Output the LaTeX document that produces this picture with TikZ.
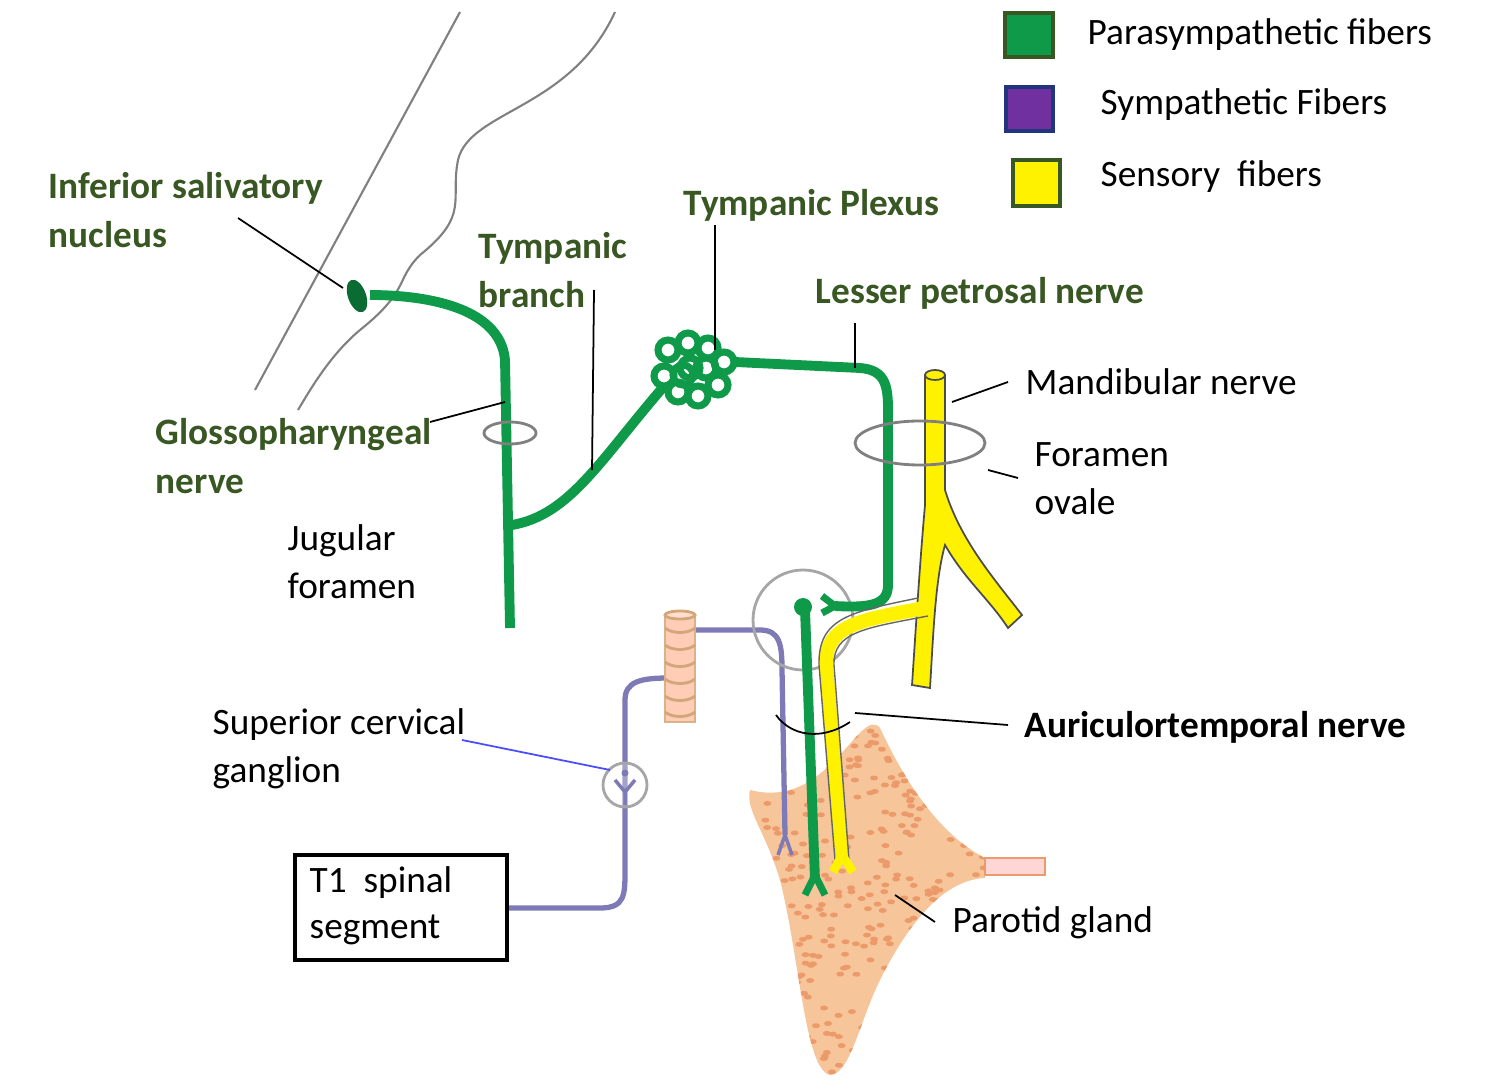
\documentclass[tikz,border=0pt]{standalone}
\usepackage{fontspec}
\setmainfont{Carlito}
\definecolor{dg}{HTML}{385723}
\definecolor{nerveg}{HTML}{0E9A48}
\definecolor{pur}{HTML}{7E7AB5}
\definecolor{gland}{HTML}{F6C59A}
\definecolor{glandd}{HTML}{EC9A6A}
\definecolor{legp}{HTML}{7030A0}
\tikzset{lbl/.style={font=\fontsize{10.6}{13.2}\selectfont,anchor=west,align=left,inner sep=0},
 glbl/.style={lbl,text=dg,font=\fontsize{10.6}{13.2}\selectfont\bfseries},
 lead/.style={black,line width=0.5pt},
 gf/.style={nerveg,line width=2.8pt},
 pf/.style={pur,line width=1.5pt},
 yf/.style={draw=black!70,line width=0.5pt,fill=yellow}}
\begin{document}
\begin{tikzpicture}[x=0.01cm,y=-0.01cm]
\useasboundingbox (0,0) rectangle (1501,1086);
% legend
\fill[nerveg,draw=dg,line width=1pt] (1005,13) rectangle (1053,57);
\fill[legp,draw=dg!60!blue,line width=1pt] (1006,87) rectangle (1053,131);
\fill[yellow,draw=dg,line width=1pt] (1013,160) rectangle (1060,206);
\node[lbl] (l1) at (1087,35) {Parasympathetic fibers};
\node[lbl] (l2) at (1100,105) {Sympathetic Fibers};
\node[lbl] (l3) at (1100,177) {Sensory\ \ fibers};
% brain outline
\draw[gray,line width=0.6pt] (460,12) -- (255,390);
\draw[gray,line width=0.6pt] (615,12) .. controls (570,110) and (470,110) .. (458,160) .. controls (450,200) and (470,215) .. (420,255) .. controls (395,280) and (410,290) .. (360,330) .. controls (330,355) and (310,390) .. (298,410);
% parotid gland
\def\glandpath{(750,790) .. controls (790,800) and (815,780) .. (835,760) .. controls (855,740) and (870,715) .. (880,728) .. controls (895,760) and (930,830) .. (985,858) -- (985,878) .. controls (940,880) and (905,930) .. (880,980) .. controls (860,1020) and (850,1075) .. (830,1075) .. controls (805,1070) and (800,960) .. (780,880) .. controls (765,830) and (745,810) .. (750,790) -- cycle}
\fill[gland] \glandpath;
\begin{scope}
\clip \glandpath;
\foreach \i in {1,...,420}{
 \pgfmathsetmacro{\xx}{745+rnd*245}\pgfmathsetmacro{\yy}{720+rnd*360}
 \fill[glandd] (\xx,\yy) ellipse (4 and 2.5);}
\end{scope}
\fill[pink!80!red!40,draw=glandd] (985,858) rectangle (1045,875);
% sympathetic
\draw[pf] (505,908) -- (600,908) .. controls (625,908) and (625,895) .. (625,870) -- (625,700) .. controls (625,682) and (640,678) .. (668,678);
\draw[pf] (690,630) -- (760,630) .. controls (780,630) and (782,645) .. (782,670) -- (785,835);
\draw[pf,line width=1pt] (785,835) -- (778,855) (785,835) -- (792,855);
\draw[gray!70,line width=0.8pt,fill=white,fill opacity=0.3] (625,785) circle (22);
\fill[pur] (625,773) circle (3.5);
\draw[pur,line width=1pt] (615,780) -- (625,792) -- (635,780) (625,792) -- (625,805);
% pink cylinder
\fill[pink!70!orange!60,draw=brown!60,line width=0.8pt] (665,615) rectangle (695,722);
\foreach \y in {628,645,662,679,696,712} \draw[brown!70,line width=0.8pt] (665,\y) .. controls (672,\y+6) and (688,\y+6) .. (695,\y);
\draw[brown!70,fill=pink!70!orange!40,line width=0.8pt] (680,615) ellipse (15 and 4);
% T1 box
\node[draw,line width=1pt,minimum width=212*0.01cm,minimum height=105*0.01cm,anchor=north west] (t1) at (293,853) {};
\node[lbl] (t1t) at (309,906) {T1\ \ spinal\\segment};
% otic ganglion circle
\draw[gray!70,line width=0.8pt] (803,620) circle (50);
% green fibers
\draw[gf] (370,295) .. controls (420,295) and (500,305) .. (505,360) -- (510,628);
\draw[gf] (512,525) .. controls (570,515) and (600,460) .. (665,385);
\fill[nerveg!70!black] (357,296) ellipse [x radius=9,y radius=17,rotate=20];
\foreach \a/\b in {668/350,688/343,708/348,724/362,718/385,698/396,678/392,664/376,690/368,706/368,683/375}
 \draw[nerveg,line width=2pt] (\a,\b) circle (10);
\draw[gf] (735,362) -- (860,368) .. controls (885,370) and (888,385) .. (888,410) -- (888,585) .. controls (888,605) and (870,608) .. (835,606);
\draw[nerveg,line width=2pt] (822,596) -- (835,606) -- (822,613);
\fill[nerveg] (803,607) circle (9);
\draw[gf] (805,610) -- (815,880);
\draw[nerveg,line width=2pt] (815,875) -- (805,895) (815,875) -- (825,895);
% foramina
\draw[gray,line width=0.8pt] (510,433) ellipse (26 and 11);
% yellow
\filldraw[yf] (925,375) -- (925,505) .. controls (920,560) and (915,640) .. (912,685) -- (930,688) .. controls (933,640) and (935,580) .. (945,545) .. controls (965,580) and (990,600) .. (1008,628) -- (1022,615) .. controls (995,580) and (960,540) .. (945,490) -- (945,375) -- cycle;
\filldraw[yf] (935,375) ellipse (10 and 5);
\draw[yellow,line width=4pt] (925,608) .. controls (860,620) and (825,625) .. (826,665) -- (842,860);
\draw[black!60,line width=0.4pt] (918,598) .. controls (850,612) and (818,618) .. (819,665) -- (835,860);
\draw[black!60,line width=0.4pt] (928,616) .. controls (865,628) and (833,632) .. (834,665) -- (849,860);
\draw[yellow,line width=2.5pt] (842,855) -- (833,872) (842,855) -- (853,872);
\draw[gray,line width=0.8pt] (920,443) ellipse (65 and 22);
% labels
\node[glbl] (isn) at (48,210) {Inferior salivatory\\[0.05em]nucleus};
\node[glbl] (gn) at (155,456) {Glossopharyngeal\\[0.05em]nerve};
\node[glbl] (tb) at (478,270) {Tympanic\\[0.05em]branch};
\node[glbl] (tp) at (683,205) {Tympanic Plexus};
\node[glbl] (lp) at (815,293) {Lesser petrosal nerve};
\node[lbl] (jf) at (287,562) {Jugular\\[0.05em]foramen};
\node[lbl] (mn) at (1025,382) {Mandibular nerve};
\node[lbl] (fo) at (1034,479) {Foramen\\[0.05em]ovale};
\node[lbl] (scg) at (212,749) {Superior cervical\\[0.05em]ganglion};
\node[lbl,font=\fontsize{10.6}{13.2}\selectfont\bfseries] (at) at (1024,727) {Auriculortemporal nerve};
\node[lbl] (pg) at (952,923) {Parotid gland};
\draw[lead] (238,218) -- (343,288);
\draw[lead] (430,422) -- (505,402);
\draw[lead] (594,290) -- (592,470);
\draw[lead] (715,225) -- (715,350);
\draw[lead] (855,323) -- (855,368);
\draw[lead] (1008,382) -- (952,402);
\draw[lead] (1018,478) -- (988,470);
\draw[blue!70,line width=0.5pt] (462,740) -- (610,770);
\draw[lead] (1008,725) -- (855,713);
\draw[lead] (776,715) .. controls (790,735) and (820,742) .. (850,722);
\draw[lead] (935,922) -- (895,895);
\end{tikzpicture}
\end{document}
